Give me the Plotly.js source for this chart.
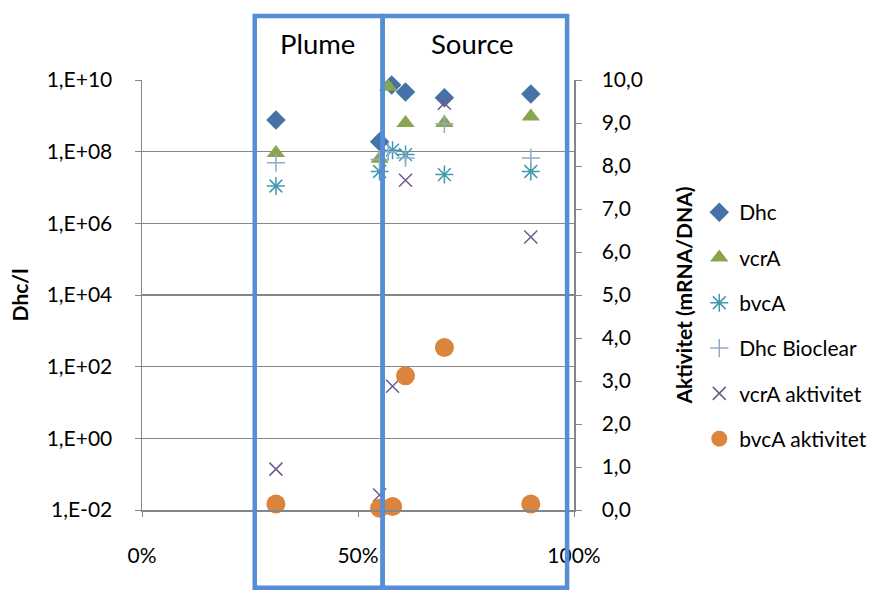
<!DOCTYPE html>
<html><head><meta charset="utf-8">
<script src="https://cdn.plot.ly/plotly-3.0.1.min.js"></script>
<style>html,body{margin:0;padding:0;background:#fff}#chart{width:874px;height:590px}</style>
</head><body><div id="chart"></div>
<script>
// ---- data ----
const seriesNames = ['Dhc', 'vcrA', 'bvcA', 'Dhc Bioclear', 'vcrA aktivitet', 'bvcA aktivitet'];

const xDhc = [0.31, 0.55, 0.578, 0.61, 0.70, 0.90];
const yDhc = [7.7e8, 1.9e8, 7.3e9, 4.6e9, 3.2e9, 4.1e9];

const xVcrA = [0.31, 0.55, 0.57, 0.61, 0.70, 0.90];
const yVcrA = [9.2e7, 6.3e7, 6.5e9, 6.3e8, 6.3e8, 9.6e8];

const xBvcA = [0.31, 0.55, 0.58, 0.61, 0.70, 0.90];
const yBvcA = [1.1e7, 2.8e7, 1.1e8, 8.3e7, 2.3e7, 2.8e7];

const xBioclear = [0.31, 0.55, 0.57, 0.61, 0.70, 0.90];
const yBioclear = [4.9e7, 6.0e7, 1.0e8, 6.7e7, 6.0e8, 6.7e7];

const xVcrAakt = [0.31, 0.55, 0.58, 0.61, 0.70, 0.90];
const yVcrAakt = [0.95, 0.35, 2.88, 7.67, 9.46, 6.35];

const xBvcAakt = [0.31, 0.55, 0.58, 0.61, 0.70, 0.90];
const yBvcAakt = [0.14, 0.04, 0.08, 3.12, 3.78, 0.14];

const leftTickVals = [1e-2, 1e0, 1e2, 1e4, 1e6, 1e8, 1e10];
const leftTickText = ['1,E-02', '1,E+00', '1,E+02', '1,E+04', '1,E+06', '1,E+08', '1,E+10'];
const xTickVals = [0, 0.5, 1];
const zoneLabels = ['Plume', 'Source'];

// ---- styling ----
const FONT = 'Lato, "Liberation Sans", sans-serif';
const FS = 21;
const GRID = '#868686';
const BOX = '#558ED5';

const traces = [
  {x: xDhc, y: yDhc, name: seriesNames[0], yaxis: 'y',
   marker: {symbol: 'diamond', size: 15, color: '#4572A7'}},
  {x: xVcrA, y: yVcrA, name: seriesNames[1], yaxis: 'y',
   marker: {symbol: 'triangle-up', size: 16, color: '#89A54E'}},
  {x: xBvcA, y: yBvcA, name: seriesNames[2], yaxis: 'y',
   marker: {symbol: 'asterisk-open', size: 15, color: '#4198AF', line: {width: 1.5, color: '#4198AF'}}},
  {x: xBioclear, y: yBioclear, name: seriesNames[3], yaxis: 'y',
   marker: {symbol: 'cross-thin-open', size: 13, color: '#93A9CF', line: {width: 1.5, color: '#93A9CF'}}},
  {x: xVcrAakt, y: yVcrAakt, name: seriesNames[4], yaxis: 'y2',
   marker: {symbol: 'x-thin-open', size: 13, color: '#71588F', line: {width: 1.5, color: '#71588F'}}},
  {x: xBvcAakt, y: yBvcAakt, name: seriesNames[5], yaxis: 'y2',
   marker: {symbol: 'circle', size: 19, color: '#DB843D'}}
].map((t, i) => Object.assign({type: 'scatter', mode: 'markers', legendgroup: 'g' + i,
  hoverinfo: 'x+y+name', cliponaxis: false}, t));

const layout = {
  width: 874, height: 590,
  margin: {l: 142, r: 300, t: 80, b: 80, autoexpand: false},
  paper_bgcolor: '#fff', plot_bgcolor: '#fff',
  separators: ', ',
  font: {family: FONT, size: FS, color: '#000'},
  showlegend: true,
  legend: {x: 1.29, xanchor: 'left', y: 0.7395, yanchor: 'top',
    font: {family: FONT, size: FS, color: '#000'}, tracegroupgap: 15,
    traceorder: 'grouped', bgcolor: 'rgba(0,0,0,0)', itemwidth: 30},
  xaxis: {range: [0, 1], tickvals: xTickVals, tickformat: '.0%',
    showgrid: false, zeroline: false, showline: true, linecolor: GRID, linewidth: 1.5,
    ticks: 'outside', ticklen: 5, tickcolor: GRID, ticklabelstandoff: 21,
    tickfont: {family: FONT, size: FS}},
  yaxis: {type: 'log', range: [-2, 10], tickvals: leftTickVals, ticktext: leftTickText,
    showgrid: true, gridcolor: GRID, gridwidth: 1.2, zeroline: false,
    showline: true, linecolor: GRID, linewidth: 1.5,
    ticks: 'outside', ticklen: 6, tickcolor: GRID, ticklabelstandoff: 18,
    tickfont: {family: FONT, size: FS},
    title: {text: '<b>Dhc/l</b>', font: {family: FONT, size: FS}, standoff: 12}},
  yaxis2: {overlaying: 'y', side: 'right', range: [0, 10], dtick: 1, tickformat: '.1f',
    showgrid: false, zeroline: false, showline: true, linecolor: GRID, linewidth: 1.5,
    ticks: 'outside', ticklen: 6, tickcolor: GRID, ticklabelstandoff: 16,
    tickfont: {family: FONT, size: FS},
    title: {text: '<b>Aktivitet (mRNA/DNA)</b>', font: {family: FONT, size: FS}, standoff: 35}},
  shapes: [
    {type: 'rect', xref: 'x', yref: 'paper', x0: 0.261, x1: 0.557, y0: -0.181, y1: 1.149,
     line: {color: BOX, width: 4.5}, layer: 'above'},
    {type: 'rect', xref: 'x', yref: 'paper', x0: 0.557, x1: 0.984, y0: -0.181, y1: 1.149,
     line: {color: BOX, width: 4.5}, layer: 'above'}
  ],
  annotations: [
    {text: zoneLabels[0], xref: 'x', yref: 'paper', x: 0.407, y: 1.086, yanchor: 'middle',
     showarrow: false, font: {family: FONT, size: 27.5, color: '#000'}},
    {text: zoneLabels[1], xref: 'x', yref: 'paper', x: 0.766, y: 1.086, yanchor: 'middle',
     showarrow: false, font: {family: FONT, size: 27.5, color: '#000'}}
  ]
};

Plotly.newPlot('chart', traces, layout, {displayModeBar: false, staticPlot: true});
</script>
</body></html>
